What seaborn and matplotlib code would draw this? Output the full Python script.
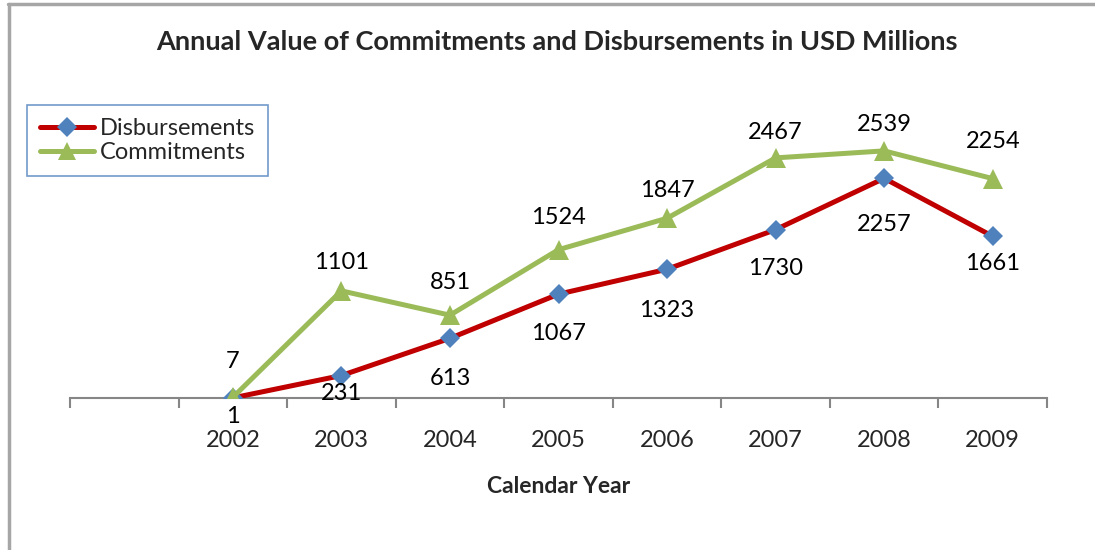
import matplotlib
matplotlib.use("Agg")
import matplotlib.pyplot as plt
import seaborn as sns
import pandas as pd
from matplotlib.lines import Line2D

years = ["2002", "2003", "2004", "2005", "2006", "2007", "2008", "2009"]
disbursements = [1, 231, 613, 1067, 1323, 1730, 2257, 1661]
commitments = [7, 1101, 851, 1524, 1847, 2467, 2539, 2254]

sns.set_theme(style="white")
plt.rcParams['font.family'] = ['Lato', 'DejaVu Sans']

RED = "#C00000"
GREEN = "#9BBB59"
BLUE = "#4F81BD"

pos = list(range(1, len(years) + 1))
df = pd.DataFrame({"pos": pos, "year": years,
                   "Disbursements": disbursements, "Commitments": commitments})

fig = plt.figure(figsize=(10.95, 5.5), dpi=100)
ax = fig.add_axes([70/1095, 1-398/550, (1047-70)/1095, (398-106)/550])

sns.lineplot(data=df, x="pos", y="Disbursements", ax=ax, color=RED, lw=3.6,
             marker="D", markersize=10, markerfacecolor=BLUE, markeredgecolor=BLUE,
             markeredgewidth=0, zorder=3)
sns.lineplot(data=df, x="pos", y="Commitments", ax=ax, color=GREEN, lw=3.6,
             marker="^", markersize=14, markerfacecolor=GREEN, markeredgecolor=GREEN,
             markeredgewidth=0, zorder=4)

ax.set_xlim(-0.5, len(years) + 0.5)
ax.set_ylim(0, 3000)

# data labels (pixel offsets)
d_off = [-19, -18, -40, -39, -41, -39, -46, -27]
c_off = [36, 28, 33, 32, 28, 25, 26, 37]
for p, v, o in zip(pos, disbursements, d_off):
    ax.annotate(f"{v}", (p, v), xytext=(0, o*0.72), textcoords="offset points",
                ha="center", va="center", fontsize=17, color="black")
for p, v, o in zip(pos, commitments, c_off):
    ax.annotate(f"{v}", (p, v), xytext=(0, o*0.72), textcoords="offset points",
                ha="center", va="center", fontsize=17, color="black")

# axes styling
for s in ["top", "right", "left"]:
    ax.spines[s].set_visible(False)
ax.spines["bottom"].set_color("#868686")
ax.spines["bottom"].set_linewidth(1.5)
ax.set_yticks([])
ax.set_xticks([i - 0.5 for i in range(len(years) + 2)])
ax.set_xticklabels([])
ax.tick_params(axis="x", which="major", direction="out", length=7, width=1.5,
               color="#868686", bottom=True)
ax.set_xticks(pos, minor=True)
ax.set_xticklabels(years, minor=True, fontsize=17)
ax.tick_params(axis="x", which="minor", length=0, pad=23)
ax.set_xlabel("")
ax.set_ylabel("")
ax.set_xlabel("Calendar Year", fontsize=16.5, fontweight="bold", labelpad=18)

fig.text(557/1095, 1-42/550, "Annual Value of Commitments and Disbursements in USD Millions",
         ha="center", va="center", fontsize=19.5, fontweight="bold")

handles = [
    Line2D([], [], color=RED, lw=3.6, marker="D", markersize=10,
           markerfacecolor=BLUE, markeredgecolor=BLUE, markeredgewidth=0),
    Line2D([], [], color=GREEN, lw=3.6, marker="^", markersize=13,
           markerfacecolor=GREEN, markeredgecolor=GREEN, markeredgewidth=0),
]
leg = fig.legend(handles, ["Disbursements", "Commitments"],
                 loc="upper left", bbox_to_anchor=(27/1095, 1-105/550),
                 fontsize=17, frameon=True, fancybox=False, handlelength=2.3,
                 handletextpad=0.25, borderpad=0.55, labelspacing=0.12,
                 borderaxespad=0)
leg.get_frame().set_edgecolor(BLUE)
leg.get_frame().set_linewidth(1.2)

# outer chart border (top and left visible)
fig.add_artist(Line2D([8/1095, 1.0], [1-4/550, 1-4/550], color="#A6A6A6", lw=2.5,
                      transform=fig.transFigure))
fig.add_artist(Line2D([9/1095, 9/1095], [0, 1-4/550], color="#A6A6A6", lw=2.5,
                      transform=fig.transFigure))

fig.savefig("out.png", dpi=100, facecolor="white")
